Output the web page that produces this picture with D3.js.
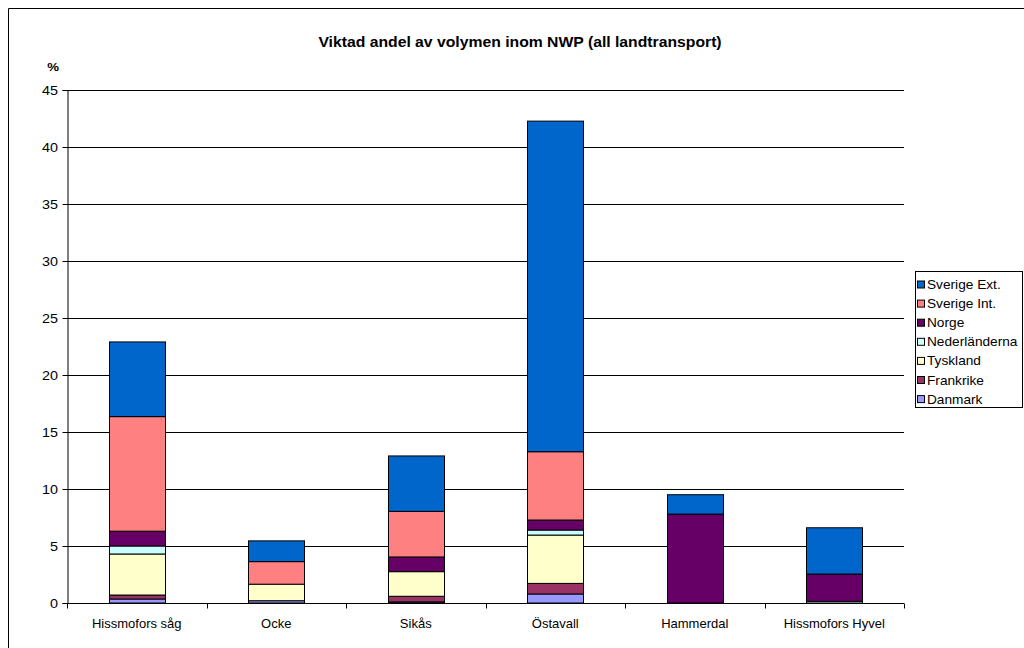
<!DOCTYPE html>
<html>
<head>
<meta charset="utf-8">
<script src="https://cdn.jsdelivr.net/npm/d3@7"></script>
<style>
  html, body { margin: 0; padding: 0; background: #fff; }
  svg { display: block; font-family: "Liberation Sans", Arial, sans-serif; }
</style>
</head>
<body>
<svg id="chart" width="1024" height="648"></svg>
<script>
// Sites along the x axis
const categories = ["Hissmofors såg", "Ocke", "Sikås", "Östavall", "Hammerdal", "Hissmofors Hyvel"];

// Weighted share (%) per destination, one array per series (stack order bottom→top)
const danmark       = [0.35, 0.20, 0.10, 0.79, 0, 0];
const frankrike     = [0.35, 0,    0.49, 0.93, 0, 0];
const tyskland      = [3.60, 1.45, 2.16, 4.24, 0, 0];
const nederlanderna = [0.70, 0,    0,    0.44, 0, 0.15];
const norge         = [1.30, 0,    1.29, 0.88, 7.80, 2.39];
const sverigeInt    = [10.05, 1.98, 4.00, 5.99, 0, 0];
const sverigeExt    = [6.55, 1.82, 4.86, 29.00, 1.70, 4.06];

const seriesNames  = ["Danmark", "Frankrike", "Tyskland", "Nederländerna", "Norge", "Sverige Int.", "Sverige Ext."];
const seriesValues = [danmark, frankrike, tyskland, nederlanderna, norge, sverigeInt, sverigeExt];
const seriesColors = ["#9999FF", "#993366", "#FFFFCC", "#CCFFFF", "#660066", "#FF8080", "#0066CC"];

const yTicks = [0, 5, 10, 15, 20, 25, 30, 35, 40, 45];

const svg = d3.select("#chart");

// Text helper with optional horizontal widening
function label(g, x, y, str, opts) {
  const o = Object.assign({ size: 12, sx: 1, anchor: "start", weight: "normal" }, opts || {});
  return g.append("text")
    .attr("transform", `translate(${x},${y}) scale(${o.sx},1)`)
    .attr("text-anchor", o.anchor)
    .attr("font-size", o.size)
    .attr("font-weight", o.weight)
    .attr("fill", "#000")
    .text(str);
}

// Outer chart frame
svg.append("path")
  .attr("d", "M8.5,648 V8.5 H1024")
  .attr("fill", "none").attr("stroke", "#000").attr("stroke-width", 1);

const plot = { left: 67, right: 904, top: 90, bottom: 603 };

const x = d3.scaleBand().domain(categories).range([plot.left, plot.right]).paddingInner(0.6).paddingOuter(0.3);
const xBand = d3.scaleBand().domain(categories).range([plot.left, plot.right]);
const y = d3.scaleLinear().domain([0, 45]).range([plot.bottom, plot.top]);

// Horizontal gridlines
svg.append("g").selectAll("line").data(yTicks.filter(d => d > 0)).join("line")
  .attr("x1", plot.left).attr("x2", plot.right)
  .attr("y1", d => Math.round(y(d)) + 0.5).attr("y2", d => Math.round(y(d)) + 0.5)
  .attr("stroke", "#000").attr("stroke-width", 1);

// Stacked bars
const rows = categories.map((c, i) => {
  const r = { cat: c };
  seriesNames.forEach((s, j) => r[s] = seriesValues[j][i]);
  return r;
});
const stacked = d3.stack().keys(seriesNames)(rows);

const bars = svg.append("g");
stacked.forEach((layer, j) => {
  bars.selectAll(null).data(layer.filter(d => d[1] - d[0] > 0)).join("rect")
    .attr("x", d => Math.round(x(d.data.cat)) + 0.5)
    .attr("width", Math.round(x.bandwidth()))
    .attr("y", d => y(d[1]))
    .attr("height", d => y(d[0]) - y(d[1]))
    .attr("fill", seriesColors[j])
    .attr("stroke", "#000").attr("stroke-width", 1);
});

// Y axis (line and ticks from d3, labels drawn separately)
const yAxis = d3.axisLeft(y).tickValues(yTicks).tickSize(5).tickFormat("");
const gy = svg.append("g").attr("transform", `translate(${plot.left + 0.5},0)`).call(yAxis);
gy.selectAll("line,path").attr("stroke", "#000");
const gyl = svg.append("g");
yTicks.forEach(t => label(gyl, 58, y(t) + 4.5, String(t), { size: 12.5, sx: 1.15, anchor: "end" }));

// X axis with ticks between categories
const gx = svg.append("g").attr("transform", `translate(0,${plot.bottom + 0.5})`);
gx.append("line").attr("x1", plot.left).attr("x2", plot.right).attr("stroke", "#000");
const bounds = categories.map(c => xBand(c)).concat([plot.right]);
gx.selectAll("line.tk").data(bounds).join("line").attr("class", "tk")
  .attr("x1", d => Math.round(d) + 0.5).attr("x2", d => Math.round(d) + 0.5)
  .attr("y1", 0).attr("y2", 5).attr("stroke", "#000");
categories.forEach(c => label(gx, xBand(c) + xBand.bandwidth() / 2, 24, c, { size: 13, anchor: "middle" }));

// Title and unit label
label(svg, 520, 47, "Viktad andel av volymen inom NWP (all landtransport)", { size: 15, sx: 1.05, anchor: "middle", weight: "bold" });
label(svg, 53, 71, "%", { size: 11.5, sx: 1.15, anchor: "middle", weight: "bold" });

// Legend (top entry is the top of the stack)
const lg = svg.append("g").attr("transform", "translate(915,271)");
lg.append("rect").attr("x", 0.5).attr("y", 0.5).attr("width", 107).attr("height", 136)
  .attr("fill", "#fff").attr("stroke", "#000");
const order = d3.range(seriesNames.length).reverse();
order.forEach((j, k) => {
  const yy = 13.5 + k * 19.1;
  lg.append("rect").attr("x", 2.5).attr("y", yy - 3.5).attr("width", 7).attr("height", 7)
    .attr("fill", seriesColors[j]).attr("stroke", "#000");
  label(lg, 12, yy + 4.5, seriesNames[j], { size: 12, sx: 1.14 });
});
</script>
</body>
</html>
